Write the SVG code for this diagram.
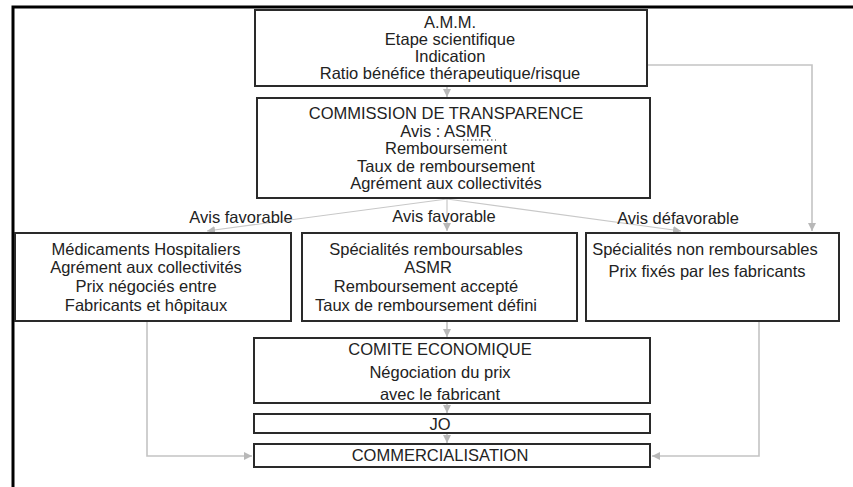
<svg xmlns="http://www.w3.org/2000/svg" width="853" height="487" viewBox="0 0 853 487">
<style>
.box{fill:#fff;stroke:#2a2a2a;stroke-width:2}
.t{font-family:"Liberation Sans",Arial,sans-serif;font-size:16.5px;fill:#222;text-anchor:middle}
.c{fill:none;stroke:#c4c4c4;stroke-width:1.6}
.thin{fill:none;stroke:#c8c8c8;stroke-width:1.2}
</style>
<defs>
<marker id="ah" markerUnits="userSpaceOnUse" markerWidth="9" markerHeight="9" refX="8" refY="4" orient="auto" viewBox="0 0 9 8">
<path d="M0,0 L8,4 L0,8 z" fill="#b8b8b8"/>
</marker>
</defs>
<rect width="853" height="487" fill="#fff"/>
<path d="M13,487 V7 H853" fill="none" stroke="#000" stroke-width="3"/>

<g id="connectors">
<path class="c" d="M447,86 V97" marker-end="url(#ah)"/>
<path class="c" d="M648,65 H812 V231" marker-end="url(#ah)"/>
<path class="thin" d="M447,199 L207,231" marker-end="url(#ah)"/>
<path class="thin" d="M447,199 V231" marker-end="url(#ah)"/>
<path class="thin" d="M447,199 L681,231" marker-end="url(#ah)"/>
<path class="c" d="M447,322 V337" marker-end="url(#ah)"/>
<path class="c" d="M447,404 V413" marker-end="url(#ah)"/>
<path class="c" d="M447,434 V443" marker-end="url(#ah)"/>
<path class="c" d="M147,322 V456 H252" marker-end="url(#ah)"/>
<path class="c" d="M759,322 V456 H652" marker-end="url(#ah)"/>
</g>

<g id="amm">
<rect class="box" x="255" y="10" width="392" height="76"/>
<text class="t" x="450" y="28">A.M.M.</text>
<text class="t" x="450" y="45">Etape scientifique</text>
<text class="t" x="450" y="62">Indication</text>
<text class="t" x="450" y="79">Ratio bénéfice thérapeutique/risque</text>
</g>

<g id="commission">
<rect class="box" x="257" y="98" width="393" height="100"/>
<text class="t" x="446" y="119">COMMISSION DE TRANSPARENCE</text>
<text class="t" x="446" y="136.5">Avis : ASMR</text>
<line x1="463" y1="140" x2="496" y2="140" stroke="#333" stroke-width="1.2" stroke-dasharray="1.5 2.5"/>
<text class="t" x="446" y="154">Remboursement</text>
<text class="t" x="446" y="171.5">Taux de remboursement</text>
<text class="t" x="446" y="189">Agrément aux collectivités</text>
</g>

<g id="labels">
<text class="t" x="241" y="223">Avis favorable</text>
<text class="t" x="444" y="222">Avis favorable</text>
<text class="t" x="678" y="224">Avis défavorable</text>
</g>

<g id="hospitaliers">
<rect class="box" x="15" y="233" width="276" height="88"/>
<text class="t" x="146" y="255">Médicaments Hospitaliers</text>
<text class="t" x="146" y="273">Agrément aux collectivités</text>
<text class="t" x="146" y="292">Prix négociés entre</text>
<text class="t" x="146" y="311">Fabricants et hôpitaux</text>
</g>

<g id="remboursables">
<rect class="box" x="302" y="233" width="275" height="88"/>
<text class="t" x="426" y="255">Spécialités remboursables</text>
<text class="t" x="428" y="273">ASMR</text>
<text class="t" x="426" y="292">Remboursement accepté</text>
<text class="t" x="426" y="311">Taux de remboursement défini</text>
</g>

<g id="non-remboursables">
<rect class="box" x="586" y="233" width="253" height="88"/>
<text class="t" x="705" y="255">Spécialités non remboursables</text>
<text class="t" x="707" y="277">Prix fixés par les fabricants</text>
</g>

<g id="comite">
<rect class="box" x="254" y="338" width="396" height="65"/>
<text class="t" x="440" y="355">COMITE ECONOMIQUE</text>
<text class="t" x="440" y="378">Négociation du prix</text>
<text class="t" x="440" y="400">avec le fabricant</text>
</g>

<g id="jo">
<rect class="box" x="254" y="414" width="396" height="19"/>
<text class="t" x="440" y="430">JO</text>
</g>

<g id="commercialisation">
<rect class="box" x="254" y="444" width="396" height="23"/>
<text class="t" x="440" y="461">COMMERCIALISATION</text>
</g>
</svg>
